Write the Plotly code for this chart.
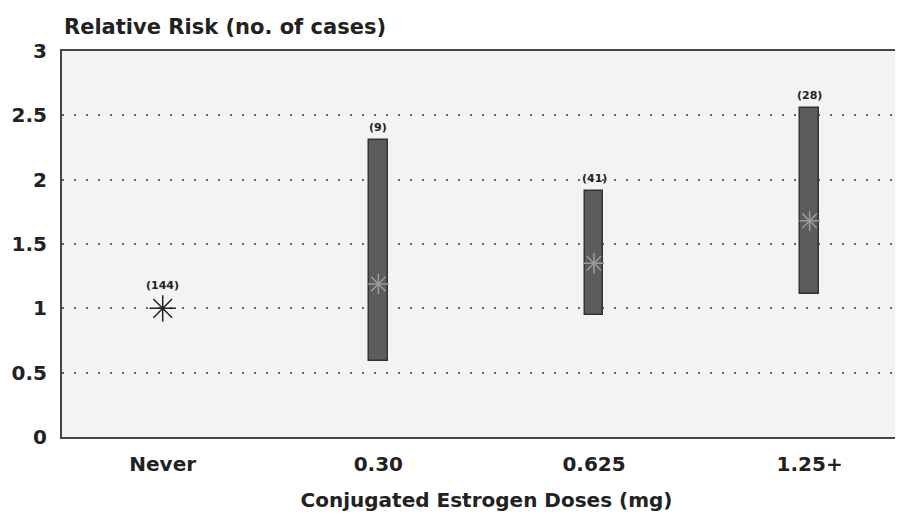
import plotly.graph_objects as go

categories = ["Never", "0.30", "0.625", "1.25+"]
relative_risk = [1.0, 1.19, 1.35, 1.68]
ci_lower = [None, 0.59, 0.95, 1.11]
ci_upper = [None, 2.31, 1.91, 2.56]
case_counts = ["(144)", "(9)", "(41)", "(28)"]
y_ticks = [0, 0.5, 1, 1.5, 2, 2.5, 3]
y_tick_labels = ["0", "0.5", "1", "1.5", "2", "2.5", "3"]

xpos = list(range(len(categories)))
bar_x = [xpos[i] for i in range(len(categories)) if ci_lower[i] is not None]
bar_base = [ci_lower[i] for i in range(len(categories)) if ci_lower[i] is not None]
bar_h = [ci_upper[i] - ci_lower[i] for i in range(len(categories)) if ci_lower[i] is not None]

FONT = "DejaVu Sans, Liberation Sans, Arial, sans-serif"

fig = go.Figure()
fig.add_trace(go.Bar(
    x=bar_x, y=bar_h, base=bar_base, width=0.085,
    marker=dict(color="#5c5c5c", line=dict(color="#333333", width=1.5)),
    hoverinfo="skip", showlegend=False,
))
# point estimates
fig.add_trace(go.Scatter(
    x=xpos[:1], y=relative_risk[:1], mode="markers",
    marker=dict(symbol="asterisk-open", size=22, color="#222222", line=dict(color="#222222", width=1.5)),
    showlegend=False,
))
fig.add_trace(go.Scatter(
    x=xpos[1:], y=relative_risk[1:], mode="markers",
    marker=dict(symbol="asterisk-open", size=17, color="#9a9a9a", line=dict(color="#9a9a9a", width=1.5)),
    showlegend=False,
))

label_y = [relative_risk[0]] + ci_upper[1:]
label_shift = [14, 4, 4, 4]
annotations = [dict(
    text="<b>Relative Risk (no. of cases)</b>", x=0, xref="paper",
    y=1.025, yref="paper", xanchor="left", yanchor="bottom",
    showarrow=False, font=dict(size=21, family=FONT, color="#222222"),
)]
for xi, yi, t, s in zip(xpos, label_y, case_counts, label_shift):
    annotations.append(dict(
        text="<b>%s</b>" % t, x=xi, y=yi, xref="x", yref="y",
        xanchor="center", yanchor="bottom", yshift=s, showarrow=False,
        font=dict(size=11, family=FONT, color="#222222"),
    ))

fig.update_layout(
    width=903, height=508,
    margin=dict(l=54, r=0, t=43, b=79, autoexpand=False),
    paper_bgcolor="white",
    plot_bgcolor="#f3f3f3",
    font=dict(family=FONT, color="#222222"),
    bargap=0,
    annotations=annotations,
)
fig.update_xaxes(
    range=[-0.467, 3.47], tickvals=xpos, ticktext=["<b>%s</b>" % c for c in categories],
    tickfont=dict(size=20, family=FONT, color="#222222"),
    showgrid=False, zeroline=False, showline=True, linecolor="#444444", linewidth=2,
    mirror=True, ticks="", ticklabelstandoff=8, automargin=False,
    title=dict(text="<b>Conjugated Estrogen Doses (mg)</b>", font=dict(size=20, family=FONT, color="#222222"), standoff=18),
)
fig.update_yaxes(
    range=[0, 3], tickvals=y_ticks, ticktext=["<b>%s</b>" % t for t in y_tick_labels],
    tickfont=dict(size=20, family=FONT, color="#222222"),
    showgrid=True, gridcolor="#666666", griddash="2px,10px", gridwidth=2,
    zeroline=False, showline=True, linecolor="#444444", linewidth=2, mirror=False,
    ticks="", ticklabelstandoff=9, automargin=False,
)

fig.write_html("out.html")
